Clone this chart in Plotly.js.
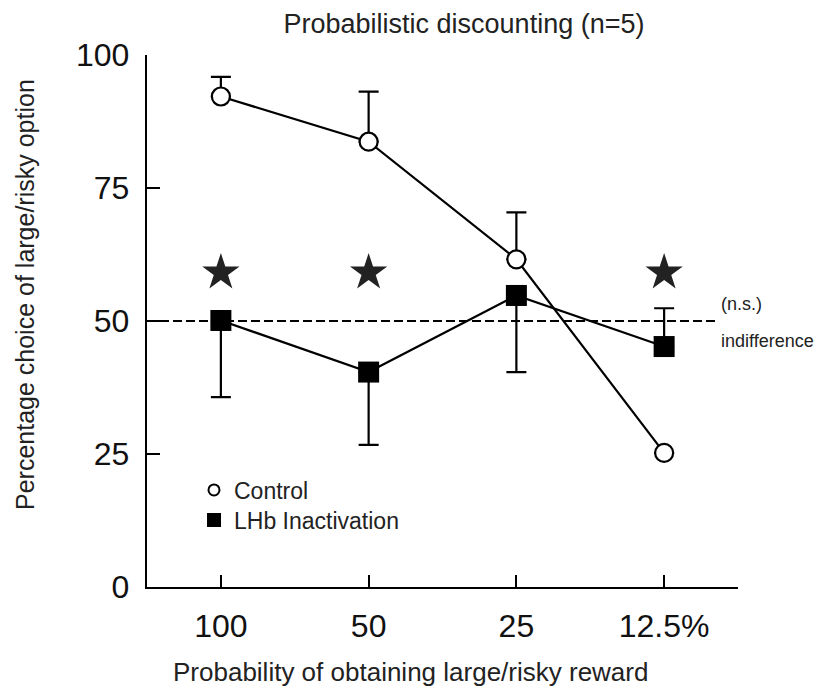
<!DOCTYPE html>
<html>
<head>
<meta charset="utf-8">
<script src="https://cdn.plot.ly/plotly-3.0.1.min.js"></script>
<style>html,body{margin:0;padding:0;background:#fff;}#chart{width:817px;height:692px;}</style>
</head>
<body>
<div id="chart"></div>
<script>
// ---- data ----
const categories = ['100', '50', '25', '12.5%'];
const xIdx = [0, 1, 2, 3];
const controlMean = [92.2, 83.7, 61.6, 25.2];
const controlErrUp = [3.7, 9.4, 8.8, 0];
const lhbMean = [50.1, 40.4, 54.8, 45.2];
const lhbErrDown = [14.4, 13.7, 14.4, 0];
const lhbErrUp = [0, 0, 0, 7.2];
const starIdx = [0, 1, 3];
const starLevel = [59.1, 59.1, 59.1];
const indifference = 50;

const FONT = 'Liberation Sans, Arial, Helvetica, sans-serif';

const traces = [
  {
    x: xIdx, y: lhbMean, type: 'scatter', mode: 'lines+markers',
    showlegend: false,
    line: {color: '#000', width: 2.2},
    marker: {symbol: 'square', size: 21, color: '#000', line: {width: 0}},
    error_y: {type: 'data', symmetric: false, array: lhbErrUp, arrayminus: lhbErrDown,
              color: '#000', thickness: 2.2, width: 10}
  },
  {
    x: xIdx, y: controlMean, type: 'scatter', mode: 'lines+markers',
    showlegend: false,
    line: {color: '#000', width: 2.2},
    marker: {symbol: 'circle', size: 18, color: '#fff', line: {color: '#000', width: 2.2}},
    error_y: {type: 'data', symmetric: false, array: controlErrUp, arrayminus: [0,0,0,0],
              color: '#000', thickness: 2.2, width: 10}
  },
  {
    x: starIdx, y: starLevel, type: 'scatter', mode: 'markers', showlegend: false,
    marker: {symbol: 'star', size: 28, color: '#222'}
  },
  {
    x: [null], y: [null], type: 'scatter', mode: 'markers', name: 'Control', legend: 'legend',
    marker: {symbol: 'circle', size: 11, color: '#fff', line: {color: '#000', width: 2}}
  },
  {
    x: [null], y: [null], type: 'scatter', mode: 'markers', name: 'LHb Inactivation', legend: 'legend2',
    marker: {symbol: 'square', size: 14, color: '#000', line: {width: 0}}
  }
];

const legendCommon = {xanchor: 'left', yanchor: 'middle', bgcolor: 'rgba(0,0,0,0)', borderwidth: 0,
                      font: {size: 23, family: FONT, color: '#222'}};

const layout = {
  width: 817, height: 692,
  margin: {l: 147, r: 79, t: 55, b: 105, pad: 0},
  paper_bgcolor: '#fff', plot_bgcolor: '#fff',
  font: {family: FONT, color: '#111'},
  title: {text: 'Probabilistic discounting (n=5)', font: {size: 27, family: FONT, color: '#222'},
          x: 464/817, xanchor: 'center', xref: 'container', y: 1 - 24/692, yanchor: 'middle'},
  xaxis: {
    range: [-0.5, 3.5], tickvals: xIdx, ticktext: categories,
    showgrid: false, zeroline: false, showline: true, linecolor: '#000', linewidth: 2.2,
    ticks: 'inside', ticklen: 12, tickwidth: 2.2, tickcolor: '#000',
    tickfont: {size: 32, family: FONT, color: '#111'}, ticklabelstandoff: 9
  },
  yaxis: {
    range: [0, 100], tickvals: [0, 25, 50, 75, 100],
    showgrid: false, zeroline: false, showline: true, linecolor: '#000', linewidth: 2.2,
    ticks: 'inside', ticklen: 13, tickwidth: 2.2, tickcolor: '#000',
    tickfont: {size: 32, family: FONT, color: '#111'}, ticklabelstandoff: 9
  },
  shapes: [
    {type: 'line', xref: 'paper', x0: 0, x1: (717-147)/591, yref: 'y', y0: indifference, y1: indifference,
     line: {color: '#000', width: 2.2, dash: '9px,4px'}, layer: 'below'}
  ],
  annotations: [
    {text: 'Percentage choice of large/risky option', textangle: -90, xref: 'paper', yref: 'paper',
     x: (25-147)/591, y: (587-295)/532, xanchor: 'center', yanchor: 'middle', showarrow: false,
     font: {size: 25, family: FONT, color: '#222'}},
    {text: 'Probability of obtaining large/risky reward', xref: 'paper', yref: 'paper',
     x: (410-147)/591, y: (587-672)/532, xanchor: 'center', yanchor: 'middle', showarrow: false,
     font: {size: 26, family: FONT, color: '#222'}},
    {text: '(n.s.)', xref: 'paper', yref: 'paper', x: (719-147)/591, y: (587-304)/532,
     xanchor: 'left', yanchor: 'middle', showarrow: false, font: {size: 18, family: FONT, color: '#222'}},
    {text: 'indifference', xref: 'paper', yref: 'paper', x: (719-147)/591, y: (587-341)/532,
     xanchor: 'left', yanchor: 'middle', showarrow: false, font: {size: 18, family: FONT, color: '#222'}}
  ],
  showlegend: true,
  legend: Object.assign({x: (194-147)/591, y: (587-490)/532}, legendCommon),
  legend2: Object.assign({x: (194-147)/591, y: (587-520)/532}, legendCommon)
};

Plotly.newPlot('chart', traces, layout, {displayModeBar: false, staticPlot: true});
</script>
</body>
</html>
